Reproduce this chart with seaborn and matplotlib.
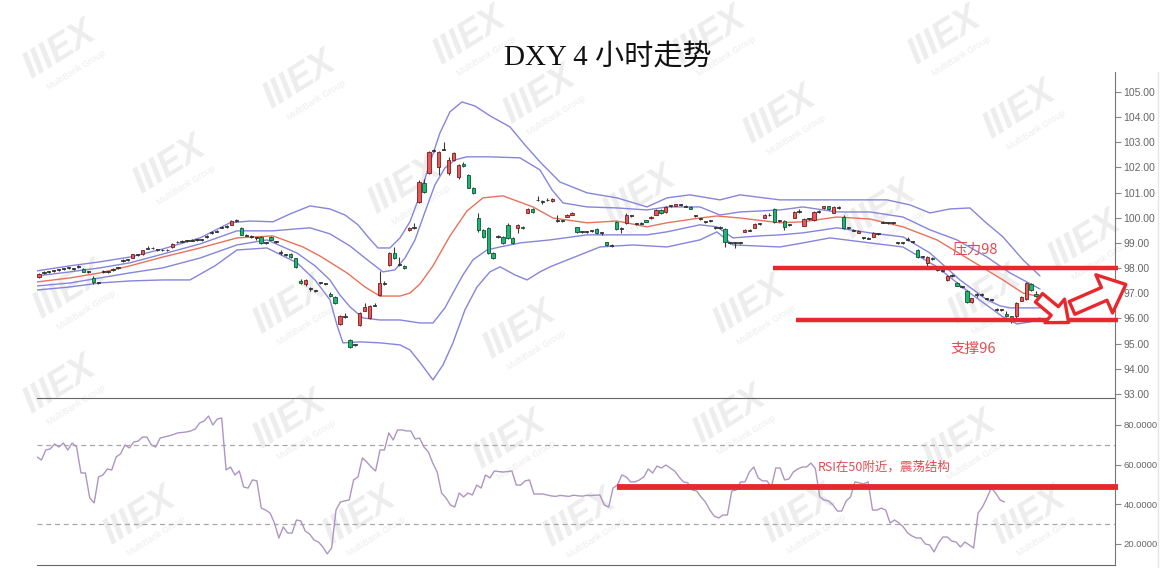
import numpy as np
import pandas as pd
import matplotlib
matplotlib.use("Agg")
import matplotlib.pyplot as plt
from matplotlib.patches import FancyArrowPatch
from matplotlib.lines import Line2D
import seaborn as sns

# candles (4h), red = up, green = down
opens = [97.65, 97.80, 97.84, 97.90, 97.91, 97.95, 98.00, 97.98, 98.04, 97.96,
         97.86, 97.62, 97.42, 97.84, 97.86, 97.94, 98.00, 98.29, 98.31, 98.42,
         98.52, 98.56, 98.77, 98.79, 98.73, 98.71, 98.70, 98.82, 99.02, 99.05,
         99.08, 99.09, 99.12, 99.11, 99.24, 99.39, 99.45, 99.61, 99.64, 99.72,
         99.87, 99.60, 99.31, 99.25, 99.21, 99.24, 99.00, 99.25, 99.06, 98.61,
         98.52, 98.55, 98.40, 97.50, 97.35, 97.18, 97.11, 97.40, 97.38, 96.96,
         96.85, 95.78, 96.06, 95.15, 94.94, 95.74, 96.30, 96.00, 96.51, 96.93,
         97.36, 98.13, 98.60, 98.14, 98.08, 99.50, 99.59, 100.63, 101.40, 101.78,
         102.64, 102.00, 102.71, 101.78, 102.30, 101.60, 102.15, 101.70, 101.20, 99.99,
         99.50, 99.60, 98.60, 99.23, 99.24, 99.70, 99.20, 99.58, 99.65, 100.20,
         100.35, 100.69, 100.62, 100.69, 100.66, 99.88, 99.87, 100.04, 100.12, 99.62,
         99.45, 99.43, 99.47, 99.56, 99.41, 99.02, 98.91, 99.84, 99.59, 99.80,
         100.06, 99.77, 99.77, 99.90, 99.98, 100.12, 100.32, 100.22, 100.46, 100.47,
         100.50, 100.46, 100.42, 100.06, 99.94, 99.85, 99.86, 99.61, 99.60, 99.56,
         99.01, 99.01, 99.00, 99.45, 99.49, 99.60, 99.75, 100.00, 100.09, 100.35,
         99.86, 99.87, 99.71, 100.00, 100.22, 99.68, 99.94, 99.90, 100.24, 100.38,
         100.45, 100.20, 100.39, 100.03, 99.61, 99.51, 99.40, 99.21, 99.19, 99.24,
         99.35, 99.81, 99.80, 99.79, 99.00, 99.01, 99.11, 99.05, 98.72, 98.45,
         98.20, 98.42, 97.93, 97.89, 97.53, 97.69, 97.40, 97.27, 97.10, 96.66,
         96.92, 96.94, 96.79, 96.75, 96.35, 96.33, 96.18, 96.08, 96.10, 96.70,
         96.78, 97.37, 96.98]
closes = [97.75, 97.81, 97.86, 97.89, 97.93, 97.96, 98.01, 97.96, 98.06, 97.86,
          97.84, 97.45, 97.40, 97.86, 97.85, 97.96, 98.01, 98.31, 98.33, 98.55,
          98.51, 98.70, 98.79, 98.78, 98.72, 98.70, 98.71, 98.97, 99.04, 99.06,
          99.07, 99.11, 99.11, 99.13, 99.26, 99.41, 99.46, 99.63, 99.66, 99.86,
          99.88, 99.32, 99.29, 99.23, 99.19, 98.98, 99.01, 99.12, 99.04, 98.59,
          98.51, 98.45, 98.05, 97.40, 97.52, 97.16, 97.09, 97.41, 97.36, 96.88,
          96.60, 96.10, 96.07, 94.87, 94.96, 96.20, 96.45, 96.50, 96.53, 97.40,
          97.38, 98.60, 98.40, 98.12, 98.00, 99.60, 99.61, 101.42, 101.03, 102.62,
          102.67, 102.60, 102.73, 102.30, 102.58, 102.10, 102.05, 101.20, 101.00, 99.50,
          99.24, 98.60, 98.40, 99.25, 99.00, 99.20, 99.00, 99.70, 99.58, 100.35,
          100.22, 100.71, 100.64, 100.71, 100.74, 99.86, 99.89, 100.10, 100.18, 99.42,
          99.43, 99.45, 99.49, 99.40, 99.39, 98.90, 98.89, 99.56, 99.57, 100.10,
          100.08, 99.75, 99.79, 99.85, 100.03, 100.30, 100.18, 100.43, 100.48, 100.53,
          100.51, 100.44, 100.36, 100.08, 99.96, 99.83, 99.88, 99.59, 99.61, 99.04,
          98.99, 99.00, 99.01, 99.52, 99.51, 99.76, 99.77, 100.10, 100.11, 99.84,
          99.88, 99.64, 99.73, 100.23, 100.24, 99.95, 99.96, 100.23, 100.26, 100.45,
          100.33, 100.43, 100.41, 99.60, 99.59, 99.49, 99.48, 99.19, 99.17, 99.38,
          99.37, 99.83, 99.79, 99.81, 99.01, 98.99, 99.13, 99.03, 98.45, 98.43,
          98.44, 98.36, 97.91, 97.87, 97.70, 97.71, 97.30, 97.25, 96.66, 96.80,
          96.94, 96.96, 96.77, 96.73, 96.33, 96.35, 96.10, 96.00, 96.62, 96.85,
          97.40, 97.13, 96.90]
highs = [97.80, 97.90, 97.90, 97.94, 97.97, 98.00, 98.05, 98.02, 98.12, 98.00,
         97.90, 97.70, 97.46, 97.92, 97.90, 98.00, 98.06, 98.35, 98.37, 98.58,
         98.56, 98.73, 98.86, 98.82, 98.76, 98.74, 98.74, 99.00, 99.08, 99.10,
         99.12, 99.15, 99.16, 99.17, 99.32, 99.46, 99.50, 99.68, 99.70, 99.90,
         99.94, 99.62, 99.34, 99.30, 99.25, 99.26, 99.04, 99.28, 99.09, 98.70,
         98.56, 98.60, 98.42, 97.58, 97.55, 97.24, 97.14, 97.46, 97.41, 97.05,
         96.88, 96.13, 96.20, 95.18, 95.00, 96.24, 96.60, 96.55, 96.60, 97.90,
         97.50, 98.65, 98.85, 98.45, 98.12, 99.64, 99.80, 101.50, 101.55, 102.66,
         102.75, 102.65, 103.00, 102.40, 102.62, 102.15, 102.20, 101.74, 101.24, 100.20,
         99.54, 99.65, 98.64, 99.32, 99.28, 99.80, 99.24, 99.74, 99.68, 100.38,
         100.38, 100.85, 100.70, 100.80, 100.78, 100.10, 99.93, 100.13, 100.21, 99.65,
         99.48, 99.49, 99.53, 99.60, 99.45, 99.05, 98.95, 99.88, 99.62, 100.20,
         100.12, 99.80, 99.83, 99.93, 100.06, 100.33, 100.35, 100.46, 100.52, 100.56,
         100.55, 100.49, 100.45, 100.12, 100.00, 99.88, 99.92, 99.65, 99.66, 99.60,
         99.04, 99.05, 99.04, 99.55, 99.55, 99.80, 99.81, 100.13, 100.20, 100.38,
         99.92, 99.90, 99.77, 100.26, 100.34, 99.98, 100.00, 100.26, 100.30, 100.48,
         100.48, 100.46, 100.45, 100.12, 99.64, 99.54, 99.51, 99.24, 99.22, 99.45,
         99.40, 99.86, 99.83, 99.84, 99.05, 99.04, 99.25, 99.08, 98.75, 98.48,
         98.47, 98.45, 97.96, 97.92, 97.73, 97.76, 97.43, 97.30, 97.13, 96.83,
         97.00, 97.00, 96.82, 96.78, 96.40, 96.38, 96.28, 96.11, 96.65, 96.88,
         97.45, 97.40, 97.10]
lows = [97.60, 97.76, 97.80, 97.86, 97.88, 97.92, 97.97, 97.93, 98.01, 97.83,
        97.80, 97.38, 97.36, 97.80, 97.82, 97.90, 97.96, 98.26, 98.28, 98.40,
        98.48, 98.54, 98.74, 98.74, 98.69, 98.67, 98.67, 98.80, 98.99, 99.02,
        99.04, 99.06, 99.08, 99.08, 99.20, 99.36, 99.42, 99.58, 99.61, 99.70,
        99.84, 99.30, 99.26, 99.20, 99.12, 98.95, 98.94, 99.10, 99.01, 98.52,
        98.48, 98.42, 98.02, 97.36, 97.30, 97.10, 97.05, 97.37, 97.33, 96.85,
        96.56, 95.74, 96.02, 94.84, 94.90, 95.70, 96.28, 95.98, 96.48, 96.90,
        97.32, 98.10, 98.37, 98.08, 97.95, 99.46, 99.55, 100.60, 101.00, 101.75,
        102.60, 101.70, 102.68, 101.70, 102.27, 101.55, 102.00, 101.17, 100.96, 99.45,
        99.20, 98.55, 98.36, 99.18, 98.96, 99.16, 98.96, 99.40, 99.55, 100.17,
        100.20, 100.65, 100.55, 100.65, 100.64, 99.82, 99.84, 100.02, 100.10, 99.39,
        99.40, 99.40, 99.44, 99.37, 99.33, 98.87, 98.85, 99.53, 99.40, 99.77,
        100.03, 99.72, 99.74, 99.82, 99.95, 100.10, 100.15, 100.20, 100.43, 100.45,
        100.46, 100.41, 100.33, 100.02, 99.90, 99.80, 99.83, 99.56, 99.57, 98.85,
        98.96, 98.80, 98.97, 99.43, 99.46, 99.58, 99.72, 99.98, 100.06, 99.80,
        99.83, 99.50, 99.68, 99.98, 100.19, 99.66, 99.91, 99.88, 100.20, 100.36,
        100.30, 100.18, 100.36, 99.56, 99.55, 99.46, 99.38, 99.16, 99.14, 99.22,
        99.32, 99.78, 99.76, 99.76, 98.96, 98.94, 99.08, 99.00, 98.42, 98.40,
        98.10, 98.33, 97.88, 97.84, 97.50, 97.66, 97.27, 97.22, 96.63, 96.63,
        96.85, 96.91, 96.74, 96.70, 96.30, 96.30, 96.07, 95.80, 96.00, 96.68,
        96.75, 97.10, 96.85]

# bollinger lines (x in candle index)
up2_x = [-0.41, 6.28, 12.36, 18.44, 25.12, 32.62, 38.70, 42.75, 47.41, 50.85,
         54.90, 58.95, 62.00, 64.63, 66.65, 68.68, 71.11, 73.14, 75.16, 77.19,
         79.21, 81.24, 83.27, 85.70, 88.33, 91.37, 95.42, 98.46, 101.50, 105.55,
         111.02, 117.10, 123.18, 127.23, 131.89, 137.97, 142.02, 150.12, 156.20, 164.91,
         171.80, 176.46, 180.51, 184.56, 188.61, 191.65, 195.30, 199.35, 202.80]
up2_y = [97.89, 98.09, 98.25, 98.44, 98.76, 99.20, 99.80, 99.87, 99.84, 100.15,
         100.47, 100.35, 100.11, 99.72, 99.24, 98.80, 98.80, 99.20, 99.84, 100.91,
         102.18, 103.37, 104.21, 104.60, 104.44, 104.05, 103.61, 102.89, 102.22, 101.42,
         100.99, 100.79, 100.43, 100.79, 100.91, 100.71, 100.91, 100.71, 100.71, 100.71,
         100.71, 100.51, 100.19, 100.35, 100.39, 99.84, 99.24, 98.33, 97.69]
up1_x = [-0.41, 6.28, 12.36, 18.44, 25.12, 32.62, 40.11, 47.41, 52.27, 54.90,
         58.95, 63.01, 66.05, 69.69, 72.12, 74.15, 76.18, 78.20, 80.23, 82.25,
         84.28, 86.71, 91.37, 97.45, 101.50, 103.93, 106.16, 111.02, 117.10, 123.18,
         127.23, 133.91, 137.97, 142.02, 150.12, 154.78, 161.67, 168.36, 175.04, 180.51,
         185.98, 192.06, 196.72, 202.80]
up1_y = [97.69, 97.85, 98.01, 98.21, 98.56, 98.96, 99.48, 99.48, 99.56, 99.60,
         99.36, 98.88, 98.40, 97.85, 97.93, 98.40, 99.12, 100.23, 101.31, 101.98,
         102.30, 102.42, 102.42, 102.38, 101.90, 101.11, 100.59, 100.43, 100.39, 100.31,
         100.43, 100.43, 100.11, 100.23, 100.31, 100.43, 100.23, 100.23, 100.03, 99.52,
         99.12, 98.44, 97.81, 97.17]
mid_x = [-0.41, 6.28, 12.36, 18.44, 25.12, 32.62, 40.11, 47.41, 53.48, 56.93,
         62.40, 66.05, 69.08, 73.14, 75.16, 77.19, 79.82, 83.27, 86.71, 89.95,
         94.00, 100.08, 104.13, 111.02, 117.10, 123.18, 127.23, 133.91, 137.36, 142.02,
         150.12, 154.78, 161.67, 168.36, 175.04, 181.93, 188.61, 195.30, 199.35, 202.80]
mid_y = [97.45, 97.61, 97.81, 98.09, 98.44, 98.80, 99.20, 99.28, 98.84, 98.48,
         97.81, 97.25, 96.89, 96.89, 97.01, 97.37, 98.09, 99.28, 100.27, 100.79,
         100.87, 100.43, 99.99, 99.80, 99.87, 99.64, 99.80, 99.99, 100.07, 99.99,
         99.80, 99.84, 100.03, 99.95, 99.64, 99.12, 98.33, 97.53, 97.01, 96.86]
lo1_x = [-0.41, 6.28, 12.36, 18.44, 25.12, 32.62, 40.11, 46.19, 52.27, 55.92,
         58.95, 60.98, 63.01, 65.64, 69.08, 73.14, 77.19, 79.82, 82.25, 83.87,
         85.90, 87.93, 90.76, 93.40, 97.45, 103.53, 111.02, 117.10, 123.18, 127.23,
         133.91, 137.36, 140.60, 146.07, 150.12, 154.78, 161.67, 168.36, 175.04, 180.51,
         186.59, 192.06, 194.69, 196.72, 202.80]
lo1_y = [97.29, 97.41, 97.61, 97.81, 98.01, 98.40, 98.92, 99.12, 98.60, 98.09,
         97.53, 96.93, 96.46, 96.02, 95.94, 95.94, 95.82, 95.82, 96.42, 97.01,
         97.73, 98.33, 98.72, 98.84, 99.00, 99.12, 99.32, 99.32, 99.32, 99.44,
         99.72, 99.64, 99.20, 99.28, 99.32, 99.40, 99.60, 99.40, 99.24, 98.60,
         97.53, 96.74, 96.50, 96.42, 96.42]
lo2_x = [-0.41, 6.28, 12.36, 18.44, 25.12, 30.59, 35.66, 40.11, 46.19, 52.27,
         55.92, 58.95, 60.37, 61.59, 65.03, 69.08, 73.14, 75.16, 77.59, 79.82,
         81.85, 83.87, 86.30, 88.74, 91.37, 93.40, 96.43, 98.87, 101.50, 103.53,
         113.65, 120.34, 127.23, 133.91, 137.36, 140.60, 150.12, 154.78, 160.25, 168.36,
         175.04, 181.93, 188.61, 195.30, 198.14, 200.77, 202.80]
lo2_y = [97.13, 97.25, 97.41, 97.49, 97.53, 97.53, 98.09, 98.72, 98.80, 98.21,
         97.53, 96.74, 95.74, 95.03, 95.07, 95.03, 94.95, 94.75, 94.15, 93.56,
         94.15, 95.03, 96.34, 97.25, 97.85, 98.05, 97.73, 97.53, 97.85, 98.05,
         98.84, 98.92, 98.84, 99.12, 99.44, 98.92, 98.84, 99.00, 99.20, 99.00,
         98.84, 98.05, 97.01, 96.06, 95.78, 95.86, 96.02]

rsi_vals = [63.9, 62.3, 67.4, 67.9, 70.4, 68.9, 70.9, 67.4, 70.9, 68.9,
            55.8, 55.8, 43.2, 40.7, 53.8, 54.8, 57.8, 57.3, 63.9, 65.4,
            69.9, 68.4, 71.4, 71.9, 73.9, 73.9, 69.9, 68.9, 73.4, 74.0,
            74.5, 75.2, 76.0, 76.2, 76.5, 77.0, 78.0, 81.0, 82.0, 84.5,
            80.0, 83.0, 83.5, 57.3, 58.8, 54.8, 56.8, 48.7, 48.2, 52.3,
            51.8, 38.1, 37.1, 35.6, 30.6, 23.0, 28.6, 25.5, 25.5, 32.1,
            31.6, 26.5, 25.0, 22.0, 21.0, 18.5, 15.0, 18.0, 37.1, 41.2,
            41.7, 42.2, 52.3, 53.8, 63.4, 61.3, 58.8, 56.8, 67.4, 67.4,
            76.0, 72.4, 77.5, 77.5, 77.0, 77.0, 72.9, 73.4, 68.9, 66.4,
            60.8, 56.3, 45.7, 43.2, 39.7, 38.6, 45.7, 43.7, 45.7, 44.7,
            49.7, 48.2, 54.8, 53.3, 56.8, 56.5, 56.3, 56.5, 56.8, 49.7,
            49.7, 51.8, 52.3, 45.2, 45.2, 45.2, 44.7, 44.2, 44.0, 44.5,
            44.2, 44.0, 44.6, 44.3, 44.1, 44.5, 44.4, 44.6, 44.7, 39.7,
            38.6, 48.2, 49.7, 54.8, 53.8, 51.3, 51.3, 52.3, 53.8, 57.8,
            55.8, 59.3, 58.3, 59.8, 58.3, 56.8, 53.8, 51.3, 50.8, 47.2,
            46.7, 43.7, 41.2, 37.1, 34.1, 33.1, 34.6, 34.6, 46.7, 47.2,
            51.3, 51.3, 56.3, 58.8, 53.3, 51.8, 51.8, 48.7, 58.3, 58.3,
            52.3, 52.8, 56.3, 57.8, 58.8, 58.8, 60.8, 58.0, 43.7, 42.2,
            41.7, 39.7, 36.6, 36.6, 41.7, 43.7, 51.3, 50.8, 50.3, 51.3,
            37.1, 37.1, 38.1, 37.1, 30.6, 32.1, 30.6, 28.6, 25.5, 24.0,
            23.0, 23.0, 20.0, 19.5, 16.0, 20.5, 23.5, 23.5, 21.5, 21.0,
            18.5, 21.0, 19.5, 18.0, 35.6, 38.6, 43.2, 48.2, 45.7, 42.2,
            41.2]

price_ticks = list(range(93, 106))
rsi_ticks = [20, 40, 60, 80]

RED = "#e8282c"
BAND = "#8585dd"

sns.set_style("white")
plt.rcParams['font.family'] = ['Liberation Sans', 'Noto Sans CJK SC', 'DejaVu Sans']

W, H = 1169, 568
fig = plt.figure(figsize=(W / 100, H / 100), dpi=100)
ax = fig.add_axes([37 / W, (H - 398) / H, (1115 - 37) / W, (398 - 72) / H])
ax2 = fig.add_axes([37 / W, (H - 565) / H, (1115 - 37) / W, (565 - 398) / H])

# faint watermarks, kept underneath the axes
wm_spots = [(60, 50), (300, 80), (540, 95), (780, 115), (1020, 110), (470, 36), (710, 36), (945, 36),
            (170, 165), (405, 185), (640, 195), (880, 210), (1085, 240),
            (70, 290), (290, 305), (520, 330), (750, 305), (985, 295),
            (60, 385), (290, 420), (510, 440), (730, 415), (960, 440),
            (140, 516), (360, 516), (580, 518), (800, 514), (1030, 516)]
for px, py in wm_spots:
    fig.text(px / W, 1 - py / H, "IIIEX", fontsize=26, fontweight="bold", fontstyle="italic",
             color="#ededed", rotation=32, ha="center", va="center", zorder=-1)
    fig.text((px + 16) / W, 1 - (py + 20) / H, "MultiBank Group", fontsize=6.5,
             color="#ededed", rotation=32, ha="center", va="center", zorder=-1)

# candles
df = pd.DataFrame({"o": opens, "h": highs, "l": lows, "c": closes})
df["i"] = np.arange(len(df))
df["bot"] = df[["o", "c"]].min(axis=1)
df["size"] = (df["c"] - df["o"]).abs().clip(lower=0.035)
up = df["c"] >= df["o"]
doji = (df["c"] - df["o"]).abs() < 0.04

ax.vlines(df["i"], df["l"], df["h"], color="#3a3a3a", lw=0.8, zorder=3)
for mask, fc, ec in [(up & ~doji, "#e4585a", "#7a1c1c"), (~up & ~doji, "#1fb574", "#0d5632"),
                     (doji, "#333333", "#333333")]:
    d = df[mask]
    ax.bar(d["i"], d["size"], bottom=d["bot"], width=0.66, color=fc, edgecolor=ec,
           linewidth=0.6, zorder=4)

# bands
for xs, ys, col in [(up2_x, up2_y, BAND), (up1_x, up1_y, BAND), (lo1_x, lo1_y, BAND),
                    (lo2_x, lo2_y, BAND), (mid_x, mid_y, "#e8725c")]:
    sns.lineplot(x=xs, y=ys, ax=ax, color=col, lw=1.0, estimator=None, zorder=2)

ax.set_xlim(-0.4, 218.0)
ax.set_ylim(92.84, 105.79)

# support / resistance
ax.hlines(98.0, 148.7, 218.6, color=RED, lw=3.2, zorder=6, clip_on=False)
ax.hlines(95.95, 153.4, 218.6, color=RED, lw=3.2, zorder=6, clip_on=False)
ax.text(189.6, 98.76, "压力98", color="#e04c50", fontsize=10.5, ha="center", va="center",
        family=['Noto Sans CJK SC', 'DejaVu Sans'])
ax.text(189.2, 94.79, "支撑96", color="#e04c50", fontsize=10.5, ha="center", va="center",
        family=['Noto Sans CJK SC', 'DejaVu Sans'])

for tail, tip, style in [((202.6, 96.82), (208.6, 95.84), "simple,head_length=13,head_width=22,tail_width=8"),
                         ((209.3, 96.42), (220.2, 97.35), "simple,head_length=17,head_width=30,tail_width=10")]:
    arr = FancyArrowPatch(tail, tip, arrowstyle=style, mutation_scale=1, fc="white", ec=RED,
                          lw=2.4, shrinkA=0, shrinkB=0, zorder=7, clip_on=False)
    ax.add_patch(arr)

# rsi
rsi_x = np.linspace(-0.4, 195.6, len(rsi_vals))
sns.lineplot(x=rsi_x, y=rsi_vals, ax=ax2, color="#ae95c2", lw=1.0, estimator=None, zorder=3)
ax2.set_xlim(-0.4, 218.0)
ax2.set_ylim(9.4, 93.6)
for lvl in (70, 30):
    ax2.axhline(lvl, color="#a8a8a8", lw=0.9, ls=(0, (4, 3)), zorder=1)
ax2.hlines(48.9, 117.1, 218.6, color=RED, lw=4.2, zorder=5, clip_on=False)
ax2.text(171.2, 58.8, "RSI在50附近，震荡结构", color="#e04c50", fontsize=9, ha="center",
         va="center", family=['Noto Sans CJK SC', 'DejaVu Sans'], zorder=6)

# axes styling
for a, ticks, fmt, lsize in [(ax, price_ticks, "{:.2f}", 7.5), (ax2, rsi_ticks, "{:.4f}", 6.8)]:
    a.set_xticks([])
    a.yaxis.tick_right()
    a.set_yticks(ticks)
    a.set_yticklabels([fmt.format(t) for t in ticks])
    a.tick_params(axis="y", direction="out", length=4, width=0.8, color="#888888",
                  labelsize=lsize, labelcolor="#666666", pad=2)
    a.spines["left"].set_visible(False)
    a.spines["top"].set_visible(False)
    a.spines["right"].set_color("#777777")
    a.spines["bottom"].set_color("#666666")
    a.set_xlabel("")
    a.set_ylabel("")
    a.patch.set_alpha(0)

fig.add_artist(Line2D([1158 / W, 1158 / W], [0, 1 - 72 / H], color="#e6e6e6", lw=1, zorder=-1))

fig.text(608 / W, 1 - 57 / H, "DXY 4 小时走势", fontsize=21, ha="center", va="center",
         color="#111111", family=['Liberation Serif', 'Noto Sans CJK SC'])

fig.savefig("out.png", dpi=100)
